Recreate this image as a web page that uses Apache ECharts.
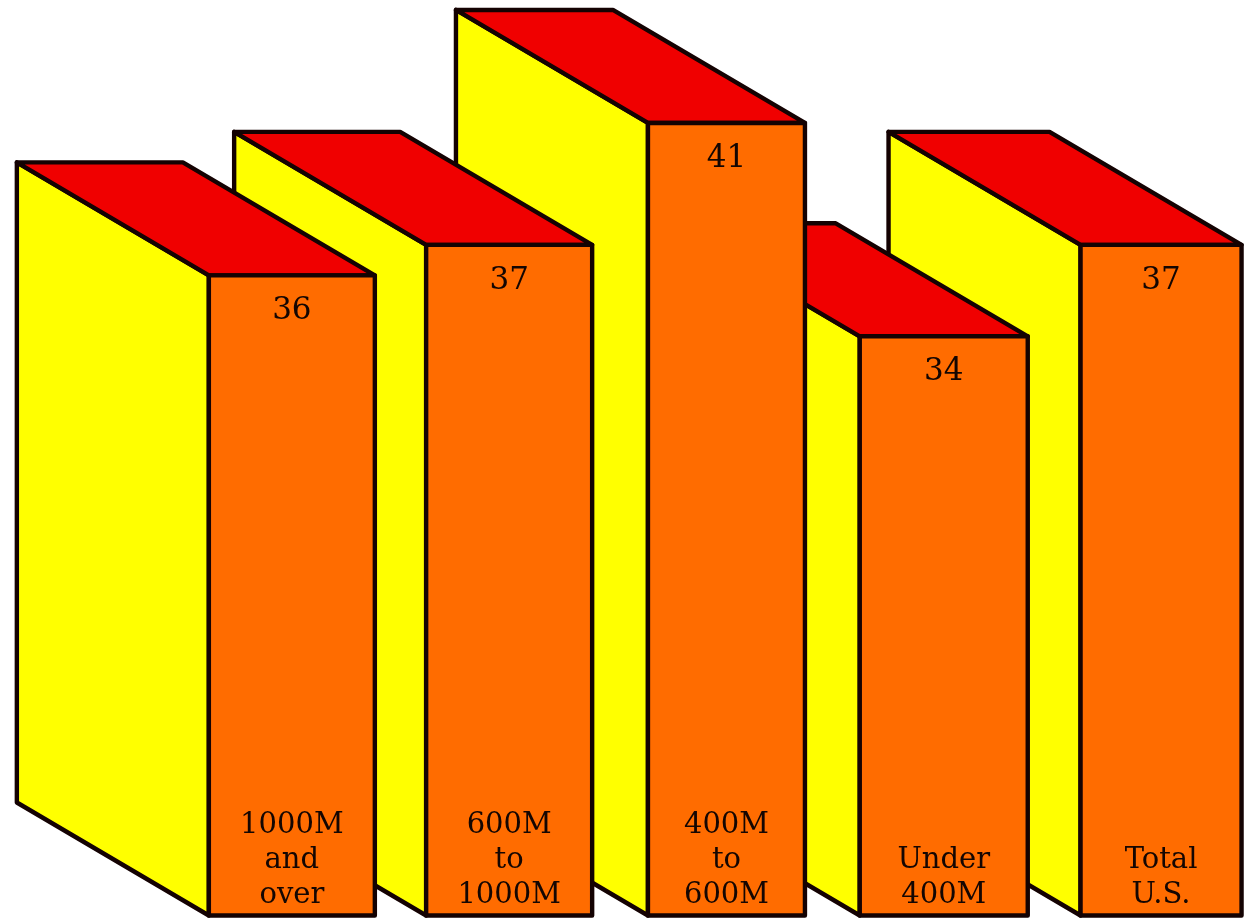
<!DOCTYPE html>
<html>
<head>
<meta charset="utf-8">
<style>
  html, body { margin: 0; padding: 0; background: #ffffff; }
  #chart { width: 1252px; height: 921px; }
</style>
<script src="https://cdn.jsdelivr.net/npm/echarts@6/dist/echarts.min.js"></script>
</head>
<body>
<div id="chart"></div>
<script>
  // Market-size groups and their values
  const categories = ['1000M\nand\nover', '600M\nto\n1000M', '400M\nto\n600M', 'Under\n400M', 'Total\nU.S.'];
  const values = [36, 37, 41, 34, 37];

  // Width of each front face, in pixels
  const faceWidths = [166, 166, 157, 168, 161];

  const COLORS = { side: '#ffff00', top: '#f00000', front: '#ff6c00', edge: '#140202', text: '#140602' };
  const DEPTH = { x: -192, y: -113 };
  const TEXT_FONT = '"DejaVu Serif", serif';

  // Draws one box: side and top faces receding up-left, then the front face and its labels
  function renderBox(params, api) {
    const index = api.value(0);
    const value = api.value(1);
    const top = api.coord([index, value]);
    const base = api.coord([index, 15]);
    const half = faceWidths[index] / 2;
    const l = top[0] - half, r = top[0] + half, t = top[1], b = base[1];
    const edge = { stroke: COLORS.edge, lineWidth: 4.4, lineJoin: 'round' };
    const poly = (points, fill) => ({
      type: 'polygon',
      shape: { points },
      style: Object.assign({ fill }, edge)
    });
    return {
      type: 'group',
      children: [
        poly([[l, t], [l + DEPTH.x, t + DEPTH.y], [l + DEPTH.x, b + DEPTH.y], [l, b]], COLORS.side),
        poly([[l, t], [l + DEPTH.x, t + DEPTH.y], [r + DEPTH.x, t + DEPTH.y], [r, t]], COLORS.top),
        poly([[l, t], [r, t], [r, b], [l, b]], COLORS.front),
        {
          type: 'text',
          style: {
            x: top[0], y: t + 36,
            text: String(value),
            fill: COLORS.text,
            font: '31px ' + TEXT_FONT,
            align: 'center', verticalAlign: 'middle'
          }
        },
        {
          type: 'text',
          style: {
            x: top[0], y: b - 3,
            text: categories[index],
            fill: COLORS.text,
            font: '29px ' + TEXT_FONT,
            lineHeight: 35,
            align: 'center', verticalAlign: 'bottom'
          }
        }
      ]
    };
  }

  // Nearer boxes sit on the left, so they are painted last
  const boxes = values.map((v, i) => [i, v]).reverse();

  const chart = echarts.init(document.getElementById('chart'), null, { renderer: 'canvas' });
  chart.setOption({
    animation: false,
    backgroundColor: '#ffffff',
    grid: { left: 183.2, width: 1086.5, top: 1.0, height: 914.5, outerBoundsMode: 'none' },
    xAxis: { type: 'category', data: categories, show: false },
    yAxis: { type: 'value', min: 15, max: 45, show: false },
    series: [{
      type: 'custom',
      clip: false,
      coordinateSystem: 'cartesian2d',
      encode: { x: 0, y: 1 },
      data: boxes,
      renderItem: renderBox
    }]
  });
</script>
</body>
</html>
